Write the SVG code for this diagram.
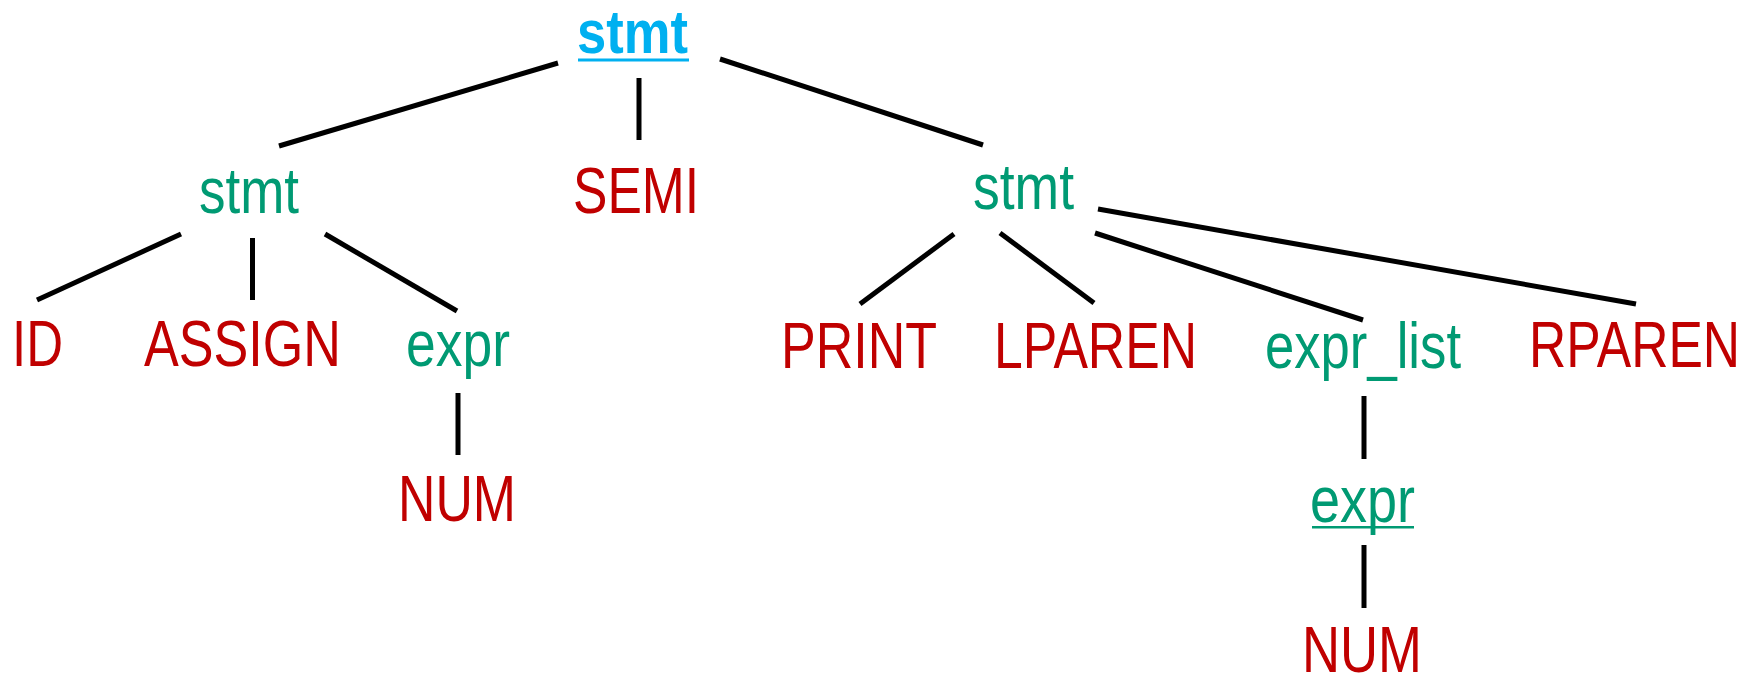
<svg xmlns="http://www.w3.org/2000/svg" width="1758" height="677" viewBox="0 0 1758 677">
<style>
text{font-family:"Liberation Sans",Arial,sans-serif;font-size:64px}
.t{fill:#c00000}
.n{fill:#009a73}
.r{fill:#00b0f0;font-weight:bold;font-size:62px}
.e line{stroke:#000;stroke-width:5;stroke-linecap:butt}
</style>
<rect width="1758" height="677" fill="#fff"/>
<g class="e" id="edges">
<line x1="558" y1="63" x2="279" y2="146"/>
<line x1="639" y1="78" x2="639" y2="140"/>
<line x1="720" y1="59" x2="983" y2="145"/>
<line x1="181" y1="234" x2="37" y2="300"/>
<line x1="252.5" y1="238" x2="252.5" y2="300"/>
<line x1="325" y1="234" x2="457" y2="311"/>
<line x1="458" y1="393" x2="458" y2="455"/>
<line x1="954" y1="234" x2="860" y2="304"/>
<line x1="1000" y1="233" x2="1094" y2="303"/>
<line x1="1095" y1="233" x2="1363" y2="320"/>
<line x1="1098" y1="209" x2="1636" y2="304"/>
<line x1="1364" y1="396" x2="1364" y2="459"/>
<line x1="1364" y1="545" x2="1364" y2="608"/>
</g>
<g id="root"><text class="r" x="577" y="53" textLength="111" lengthAdjust="spacingAndGlyphs">stmt</text><rect x="578" y="58.5" width="111" height="3" fill="#00b0f0"/></g>
<g id="stmt1"><text class="n" x="199" y="213" textLength="100" lengthAdjust="spacingAndGlyphs">stmt</text></g>
<g id="semi"><text class="t" x="573" y="213" textLength="126" lengthAdjust="spacingAndGlyphs">SEMI</text></g>
<g id="stmt2"><text class="n" x="973" y="209" textLength="101" lengthAdjust="spacingAndGlyphs">stmt</text></g>
<g id="id"><text class="t" x="12" y="366" textLength="51" lengthAdjust="spacingAndGlyphs">ID</text></g>
<g id="assign"><text class="t" x="144" y="366" textLength="197" lengthAdjust="spacingAndGlyphs">ASSIGN</text></g>
<g id="expr1"><text class="n" x="406" y="366" textLength="104" lengthAdjust="spacingAndGlyphs">expr</text></g>
<g id="num1"><text class="t" x="398" y="521" textLength="118" lengthAdjust="spacingAndGlyphs">NUM</text></g>
<g id="print"><text class="t" x="781" y="368" textLength="156" lengthAdjust="spacingAndGlyphs">PRINT</text></g>
<g id="lparen"><text class="t" x="994" y="368" textLength="203" lengthAdjust="spacingAndGlyphs">LPAREN</text></g>
<g id="exprlist"><text class="n" x="1265" y="368" textLength="196" lengthAdjust="spacingAndGlyphs">expr_list</text></g>
<g id="rparen"><text class="t" x="1529" y="367" textLength="211" lengthAdjust="spacingAndGlyphs">RPAREN</text></g>
<g id="expr2"><text class="n" x="1310" y="522" textLength="105" lengthAdjust="spacingAndGlyphs">expr</text><rect x="1312" y="526" width="102" height="2.5" fill="#009a73"/></g>
<g id="num2"><text class="t" x="1302" y="672" textLength="120" lengthAdjust="spacingAndGlyphs">NUM</text></g>
</svg>
